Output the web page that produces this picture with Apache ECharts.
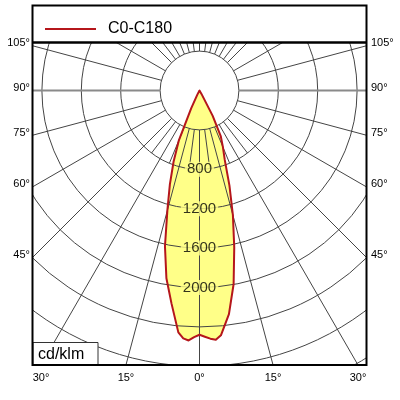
<!DOCTYPE html>
<html>
<head>
<meta charset="utf-8">
<script src="https://cdn.jsdelivr.net/npm/echarts/dist/echarts.min.js"></script>
<style>
html,body{margin:0;padding:0;background:#fff;}
#chart{width:400px;height:400px;}
</style>
</head>
<body>
<div id="chart"></div>
<script>
// ---- data ----
const seriesName = 'C0-C180';
const gammaAngles   = [0, 1.25, 2.5, 3.75, 5, 7.5, 10, 12.5, 15, 17.5, 20, 22.5, 25, 27.5, 30, 32.5, 35, 180];
const intensityC180 = [2480, 2505, 2540, 2522, 2465, 2180, 1935, 1620, 1260, 1000, 770, 545, 200, 50, 0, 0, 0, 0];   // left half
const intensityC0   = [2480, 2500, 2522, 2536, 2495, 2290, 1995, 1630, 1310, 1010, 750, 620, 510, 290, 40, 0, 0, 0]; // right half
const ringLabels = [800, 1200, 1600, 2000];
const sideTickLabels = [105, 90, 75, 60, 45];
const bottomTickLabels = [-30, -15, 0, 15, 30];
const unitLabel = 'cd/klm';

// ---- layout ----
const FONT = '"Liberation Sans", Arial, sans-serif';
const CX = 199.5, CY = 90.5;
const PX_PER_CD = 0.0985;
const RING_MIN = 400, RING_MAX = 3600, RING_STEP = 400, INNER_MAX = 800;
const PLOT = {left: 33, right: 366, top: 43, bottom: 365};
const FILL = '#ffff88', RED = '#b5161b', GRID = '#454545';

// curve: left half from top down to 0°, then right half back up
const curve = [];
for (let i = gammaAngles.length - 1; i >= 0; i--) curve.push([intensityC180[i], gammaAngles[i]]);
for (let i = 1; i < gammaAngles.length; i++) curve.push([intensityC0[i], 360 - gammaAngles[i]]);

// spoke colours
const mainSpokeColors = [];
for (let a = 0; a < 360; a += 15) mainSpokeColors.push((a === 90 || a === 270) ? 'rgba(0,0,0,0)' : GRID);
const fineSpokeColors = [];
for (let a = 0; a < 360; a += 7.5) {
  const d = Math.min(a, 360 - a, Math.abs(180 - a));
  fineSpokeColors.push((a % 15 !== 0 && d <= 40) ? GRID : 'rgba(0,0,0,0)');
}

const hidden = {axisLine: {show: false}, axisTick: {show: false}, axisLabel: {show: false}};
const outerR = [RING_MIN * PX_PER_CD, RING_MAX * PX_PER_CD];

// ---- graphics (masks, frame, labels) ----
const g = [];
const Z = 100;
g.push({type: 'rect', z: Z, shape: {x: 0, y: 0, width: 400, height: PLOT.top}, style: {fill: '#fff'}});
g.push({type: 'rect', z: Z, shape: {x: 0, y: PLOT.bottom, width: 400, height: 400 - PLOT.bottom}, style: {fill: '#fff'}});
g.push({type: 'rect', z: Z, shape: {x: 0, y: 0, width: PLOT.left, height: 400}, style: {fill: '#fff'}});
g.push({type: 'rect', z: Z, shape: {x: PLOT.right, y: 0, width: 400 - PLOT.right, height: 400}, style: {fill: '#fff'}});
// unit box
g.push({type: 'rect', z: Z + 1, shape: {x: PLOT.left, y: 342.5, width: 65, height: PLOT.bottom - 342.5}, style: {fill: '#fff', stroke: '#333', lineWidth: 1}});
g.push({type: 'text', z: Z + 2, style: {text: unitLabel, x: 38, y: 354.5, font: '16px ' + FONT, fill: '#000', align: 'left', verticalAlign: 'middle'}});
// frame
g.push({type: 'rect', z: Z + 5, shape: {x: 32.5, y: 5.5, width: 334, height: 359.5}, style: {fill: 'none', stroke: '#000', lineWidth: 2}});
g.push({type: 'line', z: Z + 5, shape: {x1: 32.5, y1: 42.5, x2: 366.5, y2: 42.5}, style: {stroke: '#000', lineWidth: 2.5}});
// side angle labels
sideTickLabels.forEach(function (a) {
  const rad = a * Math.PI / 180;
  const t = (CX - PLOT.left) / Math.sin(rad);
  const y = CY + t * Math.cos(rad) - 2.5;
  g.push({type: 'text', z: Z + 2, style: {text: a + '°', x: 30, y: y, font: '11px ' + FONT, fill: '#000', align: 'right', verticalAlign: 'middle'}});
  g.push({type: 'text', z: Z + 2, style: {text: a + '°', x: 371, y: y, font: '11px ' + FONT, fill: '#000', align: 'left', verticalAlign: 'middle'}});
});
bottomTickLabels.forEach(function (a) {
  const x = CX + (PLOT.bottom - CY) * Math.tan(a * Math.PI / 180);
  g.push({type: 'text', z: Z + 2, style: {text: Math.abs(a) + '°', x: x, y: 377.5, font: '11px ' + FONT, fill: '#000', align: 'center', verticalAlign: 'middle'}});
});

function curvePoints(api) {
  return curve.map(function (d) { return api.coord(d); });
}

const chart = echarts.init(document.getElementById('chart'), null, {renderer: 'canvas'});
chart.setOption({
  animation: false,
  backgroundColor: '#fff',
  polar: [
    {center: [CX, CY], radius: outerR},
    {center: [CX, CY], radius: [RING_MIN * PX_PER_CD, INNER_MAX * PX_PER_CD]},
    {center: [CX, CY], radius: outerR}
  ],
  angleAxis: [
    Object.assign({polarIndex: 0, type: 'value', min: 0, max: 360, interval: 15, startAngle: 270, clockwise: true,
      splitLine: {show: true, lineStyle: {color: mainSpokeColors, width: 1}}}, hidden),
    Object.assign({polarIndex: 1, type: 'value', min: 0, max: 360, interval: 7.5, startAngle: 270, clockwise: true,
      splitLine: {show: true, lineStyle: {color: fineSpokeColors, width: 1}}}, hidden),
    Object.assign({polarIndex: 2, type: 'value', min: 0, max: 360, interval: 180, startAngle: 180, clockwise: true,
      splitLine: {show: true, lineStyle: {color: '#8a8a8a', width: 2}}}, hidden)
  ],
  radiusAxis: [
    Object.assign({polarIndex: 0, type: 'value', min: RING_MIN, max: RING_MAX, interval: RING_STEP,
      splitLine: {show: true, lineStyle: {color: GRID, width: 1}}}, hidden),
    Object.assign({polarIndex: 1, type: 'value', min: RING_MIN, max: INNER_MAX, splitLine: {show: false}}, hidden),
    Object.assign({polarIndex: 2, type: 'value', min: RING_MIN, max: RING_MAX, splitLine: {show: false}}, hidden)
  ],
  legend: {
    left: 45, top: 21, padding: 0, itemWidth: 51, itemHeight: 2, selectedMode: false, z: 200,
    data: [{name: seriesName, icon: 'rect', itemStyle: {color: RED}}],
    textStyle: {fontSize: 16, fontFamily: FONT, color: '#000', padding: [0, 0, 0, 7]}
  },
  graphic: {elements: g},
  series: [
    {
      type: 'custom', coordinateSystem: 'polar', polarIndex: 0, z: -1, silent: true,
      data: curve,
      renderItem: function (params, api) {
        if (params.dataIndex !== 0) return null;
        return {type: 'polygon', shape: {points: curvePoints(api)}, style: {fill: FILL, stroke: null}};
      }
    },
    {
      name: seriesName, type: 'custom', coordinateSystem: 'polar', polarIndex: 0, z: 3, silent: true,
      data: curve, color: RED, itemStyle: {color: RED},
      renderItem: function (params, api) {
        if (params.dataIndex !== 0) return null;
        return {type: 'polygon', shape: {points: curvePoints(api)},
          style: {fill: 'none', stroke: RED, lineWidth: 2, lineJoin: 'round'}};
      }
    },
    {
      type: 'scatter', coordinateSystem: 'polar', polarIndex: 0, z: 5, silent: true,
      data: ringLabels.map(function (v) { return [v, 0]; }),
      symbolSize: 0, itemStyle: {color: 'rgba(0,0,0,0)'},
      label: {show: true, position: 'inside', formatter: function (p) { return p.value[0]; },
        fontSize: 15, fontFamily: FONT, color: '#000', backgroundColor: FILL, padding: [0, 2]}
    }
  ]
});
</script>
</body>
</html>
